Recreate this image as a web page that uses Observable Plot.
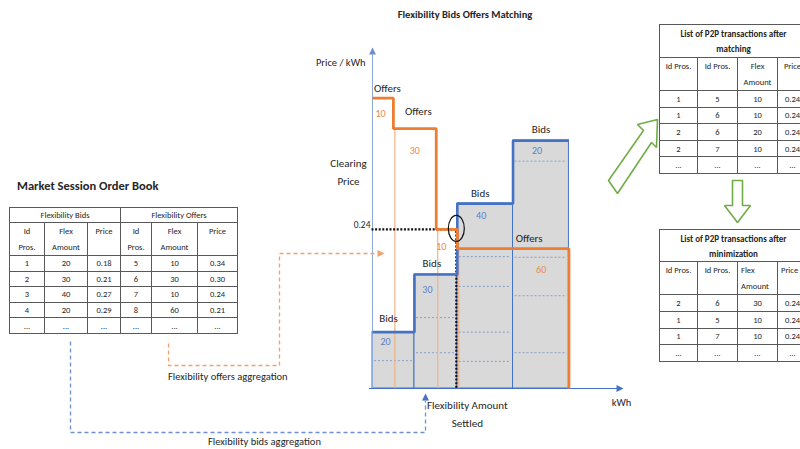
<!DOCTYPE html>
<html>
<head>
<meta charset="utf-8">
<script src="https://cdn.jsdelivr.net/npm/d3@7"></script>
<script src="https://cdn.jsdelivr.net/npm/@observablehq/plot@0.6"></script>
<style>
html,body{margin:0;padding:0;background:#fff;}
body{width:800px;height:449px;overflow:hidden;position:relative;font-family:Carlito,"Liberation Sans Narrow","Arial Narrow",Calibri,sans-serif;color:#262626;}
#chart{position:absolute;left:0;top:0;}
.lbl{position:absolute;white-space:nowrap;font-size:10.5px;line-height:12px;}
.tbl{position:absolute;border-collapse:collapse;table-layout:fixed;font-size:8.5px;color:#262626;background:#fff;border:1.5px solid #404040;}
.tbl td{border:1px solid #595959;text-align:center;padding:0;line-height:14px;overflow:hidden;white-space:nowrap;}
.tbl tr.sub td{vertical-align:top;line-height:16px;}
.tbl tr.head td{font-weight:bold;font-size:9px;line-height:15px;white-space:normal;}
.tbl.r td{font-size:8.5px;}
</style>
</head>
<body>
<div id="chart"></div>
<script>
// ---------- Order book (Market Session) ----------
const bidIds = [1, 2, 3, 4];
const bidAmounts = [20, 30, 40, 20];
const bidPrices = ["0.18", "0.21", "0.27", "0.29"];
const offerIds = [5, 6, 7, 8];
const offerAmounts = [10, 30, 10, 60];
const offerPrices = ["0.34", "0.30", "0.24", "0.21"];

// ---------- P2P transactions after matching ----------
const matchBidId = [1, 1, 2, 2];
const matchOfferId = [5, 6, 6, 7];
const matchAmount = [10, 10, 20, 10];
const matchPrice = ["0.24", "0.24", "0.24", "0.24"];

// ---------- P2P transactions after minimization ----------
const minBidId = [2, 1, 1];
const minOfferId = [6, 5, 7];
const minAmount = [30, 10, 10];
const minPrice = ["0.24", "0.24", "0.24"];

// ---------- Schematic matching chart (values as drawn in the picture) ----------
const bidStarts = [0, 23.5, 47.5, 78.7];      // kWh (as drawn)
const bidEnds = [23.5, 47.5, 78.7, 110];
const bidLevels = [0.085, 0.172, 0.279, 0.374]; // price (as drawn)
const bidSubLevels = [[0.042], [0.107, 0.054], [0.199, 0.154, 0.085, 0.041], [0.343, 0.198, 0.140, 0.054]];
const offerStarts = [0, 11.7, 35.7, 47.5];
const offerEnds = [11.7, 35.7, 47.5, 110];
const offerLevels = [0.438, 0.392, 0.240, 0.211];
const clearingPrice = 0.24;
const settledAmount = 47.5;

// ---------- layout ----------
const W = 800, H = 449, ML = 372, MR = 178, MT = 48, MB = 61;
const XMAX = 140, YMAX = 0.513;
const fx = (W - ML - MR) / XMAX, fy = (H - MT - MB) / YMAX;
const P = ([px, py]) => ({x: (px - ML) / fx, y: (H - MB - py) / fy}); // annotation helper (page px -> chart units)

const BLUE = "#4472c4", ORANGE = "#ed7d31", GREEN = "#70ad47";
const FONT = 'Carlito,"Liberation Sans Narrow","Arial Narrow",Calibri,sans-serif';

const bidIdx = d3.range(bidLevels.length);
const offerIdx = d3.range(offerLevels.length);
const bidC = i => (bidStarts[i] + bidEnds[i]) / 2;
const offC = i => (offerStarts[i] + offerEnds[i]) / 2;

const bidStep = bidStarts.map((s, i) => ({x: s, y: bidLevels[i]})).concat([{x: bidEnds.at(-1), y: bidLevels.at(-1)}]);
const offerStep = offerStarts.map((s, i) => ({x: s, y: offerLevels[i]}))
  .concat([{x: offerEnds.at(-1), y: offerLevels.at(-1)}, {x: offerEnds.at(-1), y: 0}]);
const subLines = bidSubLevels.flatMap((lv, i) => lv.map(y => ({i, y})));

// annotation connectors
const offersAggPath = [[168, 343], [168, 365], [279, 365], [279, 253], [377, 253]].map(P);
const bidsAggPath = [[70, 341], [70, 432], [425, 432], [425, 400]].map(P);
const greenDiag = [[608, 180], [643, 130], [637, 124], [657, 119], [656, 147], [651, 142], [617, 193], [608, 180]].map(P);
const greenDown = [[732, 180], [742, 180], [742, 205], [750, 205], [737, 222], [724, 205], [732, 205], [732, 180]].map(P);

const triRight = {draw(c) { c.moveTo(4, 0); c.lineTo(-3, -3.5); c.lineTo(-3, 3.5); c.closePath(); }};
const triUp = {draw(c) { c.moveTo(0, -4); c.lineTo(3.5, 3); c.lineTo(-3.5, 3); c.closePath(); }};
const ellipse = {draw(c) {
  const rx = 8, ry = 13, k = 0.5523;
  c.moveTo(rx, 0);
  c.bezierCurveTo(rx, k * ry, k * rx, ry, 0, ry);
  c.bezierCurveTo(-k * rx, ry, -rx, k * ry, -rx, 0);
  c.bezierCurveTo(-rx, -k * ry, -k * rx, -ry, 0, -ry);
  c.bezierCurveTo(k * rx, -ry, rx, -k * ry, rx, 0);
  c.closePath();
}};

const bidLblDx = [-5, -4, -5, 0], bidLblDy = [-14, -11, -10, -11];
const bidAmtDx = [-8, -8.5, -4, -4], bidAmtDy = [10, 15, 12, 10];
const offLblIdx = [0, 1, 3], offLblDx = {0: 4.5, 1: 3.5, 3: 16}, offLblDy = {0: -10, 1: -17, 3: -10};
const offAmtDx = [-2.5, 0, -5.5, 28], offAmtDy = [16, 22, 17, 21];

const marks = [
  // bids blocks
  Plot.rect(bidIdx, {x1: i => bidStarts[i], x2: i => bidEnds[i], y1: 0, y2: i => bidLevels[i], fill: "#d9d9d9", stroke: BLUE, strokeWidth: 1}),
  Plot.ruleY(subLines, {y: "y", x1: d => bidStarts[d.i], x2: d => bidEnds[d.i], insetLeft: 2, insetRight: 2, stroke: BLUE, strokeWidth: 0.8, strokeDasharray: "2,2", strokeOpacity: 0.7}),
  // thin offer edges
  Plot.ruleX(offerIdx.slice(1), {x: i => offerStarts[i], y1: 0, y2: i => offerLevels[i], dx: 1.5, stroke: "#f4b183", strokeWidth: 1.2}),
  // axes
  Plot.ruleX([0], {x: 0, y1: 0, y2: YMAX, stroke: "#8faadc", strokeWidth: 1}),
  Plot.dot([0], {x: 0, y: YMAX, dy: 3, symbol: triUp, fill: "#6f8fd0", stroke: null}),
  Plot.ruleY([0], {y: 0, x1: 0, x2: XMAX, dx: -3, stroke: BLUE, strokeWidth: 1}),
  Plot.dot([0], {x: XMAX, y: 0, dx: -3, symbol: triRight, fill: BLUE, stroke: null}),
  // clearing dotted lines
  Plot.line([{x: 0, y: clearingPrice}, {x: settledAmount, y: clearingPrice}, {x: settledAmount, y: 0}], {x: "x", y: "y", dx: -1, stroke: "#111", strokeWidth: 2.2, strokeDasharray: "2,1.6", strokeLinecap: "butt", strokeLinejoin: "miter"}),
  // bid top steps
  Plot.line(bidStep, {x: "x", y: "y", curve: "step-after", stroke: BLUE, strokeWidth: 2.6, strokeLinecap: "butt", strokeLinejoin: "miter"}),
  // offer steps
  Plot.line(offerStep, {x: "x", y: "y", curve: "step-after", stroke: ORANGE, strokeWidth: 2.8, strokeLinecap: "butt", strokeLinejoin: "miter"}),
  // clearing ellipse
  Plot.dot([0], {x: settledAmount, y: clearingPrice, dx: -1, dy: -1, symbol: ellipse, fill: "none", stroke: "#111", strokeWidth: 1.2}),
  // bar labels
  ...bidIdx.map(i => Plot.text([i], {x: bidC, y: j => bidLevels[j], text: () => "Bids", dx: bidLblDx[i], dy: bidLblDy[i], fontSize: 11, fill: "#262626"})),
  ...bidIdx.map(i => Plot.text([i], {x: bidC, y: j => bidLevels[j], text: j => String(bidAmounts[j]), dx: bidAmtDx[i], dy: bidAmtDy[i], fontSize: 10, fill: "#5b7fc7"})),
  ...offLblIdx.map(i => Plot.text([i], {x: offC, y: j => offerLevels[j], text: () => "Offers", dx: offLblDx[i], dy: offLblDy[i], fontSize: 11, fill: "#262626"})),
  ...offerIdx.map(i => Plot.text([i], {x: offC, y: j => offerLevels[j], text: j => String(offerAmounts[j]), dx: offAmtDx[i], dy: offAmtDy[i], fontSize: 10, fill: "#e8894d"})),
  // axis texts
  Plot.text([0], {x: 0, y: YMAX, text: () => "Price / kWh", textAnchor: "end", dx: -7, dy: 14, fontSize: 10.5, fill: "#262626"}),
  Plot.text([0], {x: 0, y: clearingPrice, text: () => "Clearing\nPrice", dx: -24, dy: -59.5, lineHeight: 1.7, fontSize: 11, fill: "#262626"}),
  Plot.text([clearingPrice], {x: 0, y: d => d, text: d => d3.format(".2f")(d), textAnchor: "end", dx: -2, dy: -4, fontSize: 9.5, fill: "#262626"}),
  Plot.text([0], {x: XMAX, y: 0, text: () => "kWh", dx: -1, dy: 14, fontSize: 10.5, fill: "#262626"}),
  Plot.text([settledAmount], {x: d => d, y: 0, text: () => "Flexibility Amount\nSettled", dx: 10, dy: 24, lineHeight: 1.65, fontSize: 11, fill: "#262626"}),
  // aggregation connectors
  Plot.line(offersAggPath, {x: "x", y: "y", stroke: "#f4a06a", strokeWidth: 1.3, strokeDasharray: "4,3", strokeLinecap: "butt", strokeLinejoin: "miter"}),
  Plot.dot([offersAggPath.at(-1)], {x: "x", y: "y", dx: 3, symbol: triRight, fill: "#f4a06a", stroke: null}),
  Plot.line(bidsAggPath, {x: "x", y: "y", stroke: "#6f8fd0", strokeWidth: 1.3, strokeDasharray: "4,3", strokeLinecap: "butt", strokeLinejoin: "miter"}),
  Plot.dot([bidsAggPath.at(-1)], {x: "x", y: "y", dy: -3, symbol: triUp, fill: "#4472c4", stroke: null}),
  // green hollow arrows
  Plot.line(greenDiag, {x: "x", y: "y", stroke: GREEN, strokeWidth: 1.6, strokeLinejoin: "miter"}),
  Plot.line(greenDown, {x: "x", y: "y", stroke: GREEN, strokeWidth: 1.6, strokeLinejoin: "miter"})
];

const chart = Plot.plot({
  width: W, height: H,
  marginLeft: ML, marginRight: MR, marginTop: MT, marginBottom: MB,
  x: {domain: [0, XMAX], axis: null},
  y: {domain: [0, YMAX], axis: null},
  style: {fontFamily: FONT, background: "transparent", overflow: "visible"},
  marks
});
document.getElementById("chart").appendChild(chart);

// ---------- HTML annotations ----------
function addLabel(text, css) {
  const d = document.createElement("div");
  d.className = "lbl"; d.textContent = text; d.style.cssText += css;
  document.body.appendChild(d);
  return d;
}
addLabel("Flexibility Bids Offers Matching", "left:465px;top:9px;transform:translateX(-50%);font-weight:bold;font-size:10.5px;");
addLabel("Market Session Order Book", "left:17px;top:179px;font-weight:bold;font-size:12.5px;line-height:14px;");
addLabel("Flexibility offers aggregation", "left:168px;top:371px;font-size:10.5px;");
addLabel("Flexibility bids aggregation", "left:208px;top:436px;font-size:10.5px;");

function addTable(cls, css, cols, html) {
  const t = document.createElement("table");
  t.className = cls; t.style.cssText = css;
  t.innerHTML = `<colgroup>${cols.map(w => `<col style="width:${w}px">`).join("")}</colgroup>` + html;
  document.body.appendChild(t);
}
const dots = n => `<td>${"..."}</td>`.repeat(n);

// Market session order book
let h = `<tr style="height:15px"><td colspan="3">Flexibility Bids</td><td colspan="3">Flexibility Offers</td></tr>`;
h += `<tr class="sub" style="height:33px"><td>Id<br>Pros.</td><td>Flex<br>Amount</td><td>Price</td><td>Id<br>Pros.</td><td>Flex<br>Amount</td><td>Price</td></tr>`;
bidIds.forEach((id, i) => {
  h += `<tr style="height:15.6px"><td>${id}</td><td>${bidAmounts[i]}</td><td>${bidPrices[i]}</td><td>${offerIds[i]}</td><td>${offerAmounts[i]}</td><td>${offerPrices[i]}</td></tr>`;
});
h += `<tr style="height:15.6px">${dots(6)}</tr>`;
addTable("tbl", "left:9px;top:207px;width:229px;", [35, 43, 33, 31, 46, 40], h);

// after matching
let m = `<tr class="head" style="height:33px"><td colspan="4">List of P2P transactions after<br>matching</td></tr>`;
m += `<tr class="sub" style="height:31px"><td>Id Pros.</td><td>Id Pros.</td><td>Flex<br>Amount</td><td>Price</td></tr>`;
matchBidId.forEach((b, i) => {
  m += `<tr style="height:16.6px"><td>${b}</td><td>${matchOfferId[i]}</td><td>${matchAmount[i]}</td><td>${matchPrice[i]}</td></tr>`;
});
m += `<tr style="height:16.6px">${dots(4)}</tr>`;
addTable("tbl r", "left:659px;top:24px;width:148px;", [38, 40, 40, 30], m);

// after minimization
let n = `<tr class="head" style="height:32px"><td colspan="4">List of P2P transactions after<br>minimization</td></tr>`;
n += `<tr class="sub" style="height:29px"><td>Id Pros.</td><td>Id Pros.</td><td style="text-align:left;padding-left:3px">Flex<br>Amount</td><td style="text-align:left;padding-left:3px">Price</td></tr>`;
minBidId.forEach((b, i) => {
  n += `<tr style="height:16.75px"><td>${b}</td><td>${minOfferId[i]}</td><td>${minAmount[i]}</td><td>${minPrice[i]}</td></tr>`;
});
n += `<tr style="height:16.75px">${dots(4)}</tr>`;
addTable("tbl r", "left:659px;top:229px;width:148px;", [38, 40, 40, 30], n);
</script>
</body>
</html>
